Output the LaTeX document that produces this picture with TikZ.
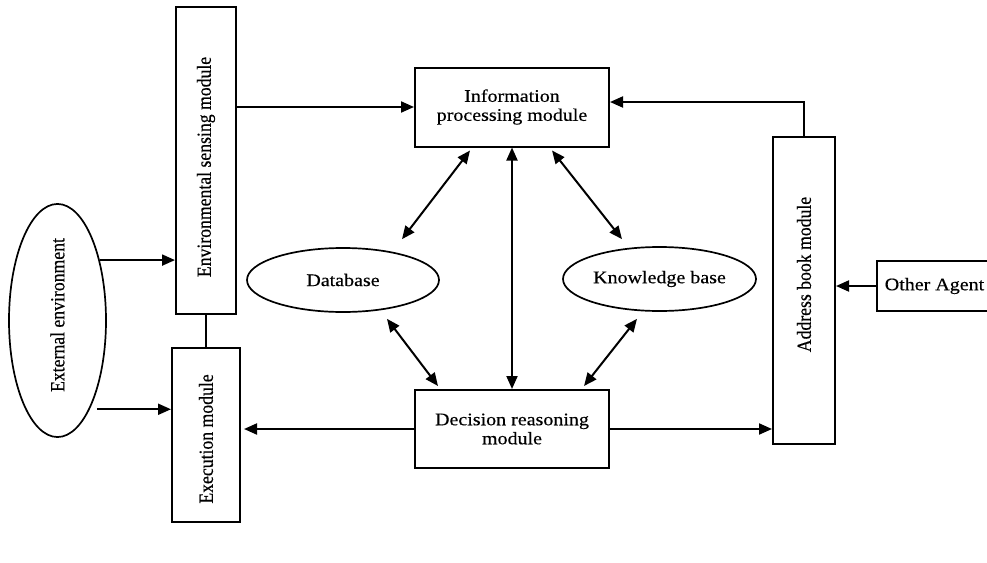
\documentclass[tikz,border=0pt]{standalone}
\usepackage{fontspec}
\setmainfont{Liberation Serif}
\newfontfamily\diagfont{Liberation Serif}[FakeBold=0.4]
\usepackage{graphicx}
\usetikzlibrary{shapes.geometric,arrows.meta}
\newcommand{\hwide}[1]{\scalebox{1.13}[1]{#1}}
\newcommand{\vtext}[1]{\hwide{\rotatebox{90}{#1}}}

\begin{document}
\begin{tikzpicture}[x=1pt, y=-1pt,
    box/.style = {draw, line width=2pt, inner sep=0pt, align=center},
    oval/.style = {draw, ellipse, line width=1.7pt, inner sep=0pt},
    arr/.style = {-{Triangle[length=13pt,width=11pt]}, line width=2pt},
    biarr/.style = {{Triangle[length=13pt,width=11pt]}-{Triangle[length=13pt,width=11pt]}, line width=2pt},
    font=\diagfont\fontsize{17.7pt}{19pt}\selectfont]
    \useasboundingbox (0,0) rectangle (987,562);
    \draw 
    (206,160.5)node(sense)[box, minimum width=60pt, minimum height=307pt]{\vtext{Environmental sensing module\hspace*{13pt}}}
    (57.5,320.5)node(ext)[oval, minimum width=97pt, minimum height=223pt]{\vtext{\hspace*{11pt}External environment}}
    (206,435)node(exe)[box, minimum width=68pt, minimum height=174pt]{\vtext{Execution module\hspace*{8pt}}}
    (512,107)node(info)[box, minimum width=194pt, minimum height=79pt]{\hwide{Information}\\\hwide{processing module}}
    (512,429)node(dec)[box, minimum width=194pt, minimum height=78pt]{\hwide{Decision reasoning}\\\hwide{module}}
    (343,280)node(db)[oval, minimum width=192pt, minimum height=64pt]{\hwide{Database}}
    (659.5,279)node(kb)[oval, minimum width=193pt, minimum height=64pt]{\hwide{Knowledge base}}
    (804,290.5)node(addr)[box, minimum width=62pt, minimum height=307pt]{\vtext{\hspace*{32pt}Address book module}}
    (934.5,286)node(other)[box, minimum width=115pt, minimum height=50pt]{\hwide{Other Agent}};
    %
    \draw[arr] (ext.55) -- (ext.55 -| sense.west);
    \draw[arr] ([xshift=7pt]ext.-70) -- (ext.-70 -| exe.west);
    \draw[line width=2pt] (sense.south) -- (exe.north);
    \draw[arr] (info.west -| sense.east) -- (info.west);
    \draw[arr] (addr.north) |- ([yshift=5pt]info.east);
    \draw[arr] (other.west) -- (other.west -| addr.east);
    \draw[arr, shorten >=3pt] (dec.west) -- (dec.west -| exe.east);
    \draw[arr] (dec.east) -- (dec.east -| addr.west);
    \draw[biarr] (info.south) -- (dec.north);
    \draw[biarr] ([xshift=-42pt,yshift=-3pt]info.south) -- ([xshift=59pt,yshift=8pt]db.north);
    \draw[biarr] ([xshift=44pt,yshift=-6pt]db.south) -- ([xshift=-74pt,yshift=3pt]dec.north);
    \draw[biarr] ([xshift=40pt,yshift=-3pt]info.south) -- ([xshift=-37.5pt,yshift=7pt]kb.north);
    \draw[biarr] ([xshift=-22.5pt,yshift=-7pt]kb.south) -- ([xshift=72pt,yshift=3pt]dec.north);
\end{tikzpicture}
\end{document}
